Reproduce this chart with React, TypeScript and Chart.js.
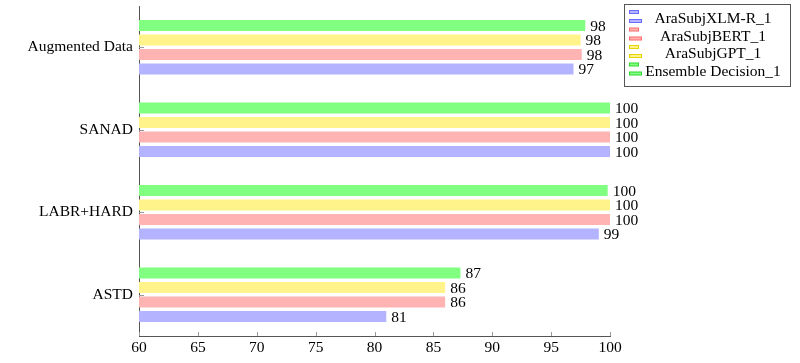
import React, { useEffect, useRef } from "react";
import { Chart, registerables } from "chart.js";

Chart.register(...registerables);

const categories = ["Augmented Data", "SANAD", "LABR+HARD", "ASTD"];
const seriesNames = ["AraSubjXLM-R_1", "AraSubjBERT_1", "AraSubjGPT_1", "Ensemble Decision_1"];
const xlmrValues = [96.9, 100, 99.05, 81.0];
const bertValues = [97.6, 100, 100, 86.0];
const gptValues = [97.5, 100, 100, 86.0];
const ensembleValues = [97.9, 100, 99.8, 87.3];
const xTicks = [60, 65, 70, 75, 80, 85, 90, 95, 100];

const fills = ["#b3b3ff", "#ffb3b3", "#fff38a", "#80ff80"];
const strokes = ["#6b6bff", "#ff6b6b", "#e6d400", "#2fd62f"];
const FONT = "'Liberation Serif', 'DejaVu Serif', serif";
const FSIZE = 15.5;

const overlayPlugin = {
  id: "overlay",
  afterDraw(chart: any) {
    const ctx = chart.ctx;
    const xs = chart.scales.x;
    const ys = chart.scales.y;
    ctx.save();
    ctx.strokeStyle = "#9a9a9a";
    ctx.lineWidth = 1;
    xTicks.forEach((v) => {
      const px = Math.round(xs.getPixelForValue(v)) + 0.5;
      ctx.beginPath();
      ctx.moveTo(px, ys.bottom);
      ctx.lineTo(px, ys.bottom - 4);
      ctx.stroke();
    });
    categories.forEach((_, i) => {
      const py = Math.round(ys.getPixelForValue(i)) + 0.5;
      ctx.beginPath();
      ctx.moveTo(xs.left, py);
      ctx.lineTo(xs.left + 5, py);
      ctx.stroke();
    });
    ctx.fillStyle = "#000";
    ctx.font = `${FSIZE}px ${FONT}`;
    ctx.textAlign = "left";
    ctx.textBaseline = "middle";
    chart.data.datasets.forEach((ds: any, di: number) => {
      const meta = chart.getDatasetMeta(di);
      meta.data.forEach((bar: any, i: number) => {
        ctx.fillText(String(Math.round(ds.data[i])), bar.x + 5, bar.y + 1);
      });
    });
    const bx = 624.5, by = 4.5, bw = 166, bh = 82;
    ctx.fillStyle = "#fff";
    ctx.fillRect(bx, by, bw, bh);
    ctx.strokeStyle = "#555";
    ctx.strokeRect(bx, by, bw, bh);
    const rows = [18, 35.5, 53, 70.5];
    seriesNames.forEach((name, i) => {
      const y = rows[i];
      ctx.fillStyle = fills[i];
      ctx.strokeStyle = strokes[i];
      ctx.lineWidth = 1;
      ctx.fillRect(629.5, y - 7.5, 9, 3);
      ctx.strokeRect(629.5, y - 7.5, 9, 3);
      ctx.fillRect(629.5, y + 1.5, 12, 3);
      ctx.strokeRect(629.5, y + 1.5, 12, 3);
      ctx.fillStyle = "#000";
      ctx.textAlign = "center";
      ctx.fillText(name, 713, y + 1);
    });
    ctx.restore();
  },
};

export default function App() {
  const ref = useRef<HTMLCanvasElement>(null);
  useEffect(() => {
    if (!ref.current) return;
    const order = [3, 2, 1, 0];
    const allValues = [xlmrValues, bertValues, gptValues, ensembleValues];
    const chart = new Chart(ref.current, {
      type: "bar",
      data: {
        labels: categories,
        datasets: order.map((k) => ({
          label: seriesNames[k],
          data: allValues[k],
          backgroundColor: fills[k],
          borderWidth: 0,
          categoryPercentage: 0.703,
          barPercentage: 0.76,
        })),
      },
      options: {
        indexAxis: "y",
        animation: false,
        responsive: false,
        maintainAspectRatio: false,
        layout: { padding: { top: 6, right: 190, left: 0, bottom: 0 } },
        plugins: { legend: { display: false }, tooltip: { enabled: false } },
        scales: {
          x: {
            type: "linear",
            min: 60,
            max: 100,
            afterBuildTicks: (s: any) => {
              s.ticks = xTicks.map((v) => ({ value: v }));
            },
            afterFit: (s: any) => {
              s.height = 27;
              s.paddingLeft = 0;
              s.paddingRight = 0;
            },
            grid: { display: false, drawTicks: false },
            border: { display: true, color: "#555", width: 1 },
            ticks: { color: "#000", font: { family: FONT, size: FSIZE }, padding: 3, maxRotation: 0 },
          },
          y: {
            type: "category",
            offset: true,
            afterFit: (s: any) => {
              s.width = 139;
              s.paddingTop = 0;
              s.paddingBottom = 0;
            },
            grid: { display: false, drawTicks: false },
            border: { display: true, color: "#555", width: 1 },
            ticks: { color: "#000", font: { family: FONT, size: FSIZE }, padding: 6 },
          },
        },
      },
      plugins: [overlayPlugin],
    });
    return () => chart.destroy();
  }, []);
  return (
    <div style={{ position: "absolute", left: 0, top: 0, width: 800, height: 363, background: "#fff" }}>
      <canvas ref={ref} width={800} height={363} style={{ width: 800, height: 363 }} />
    </div>
  );
}
